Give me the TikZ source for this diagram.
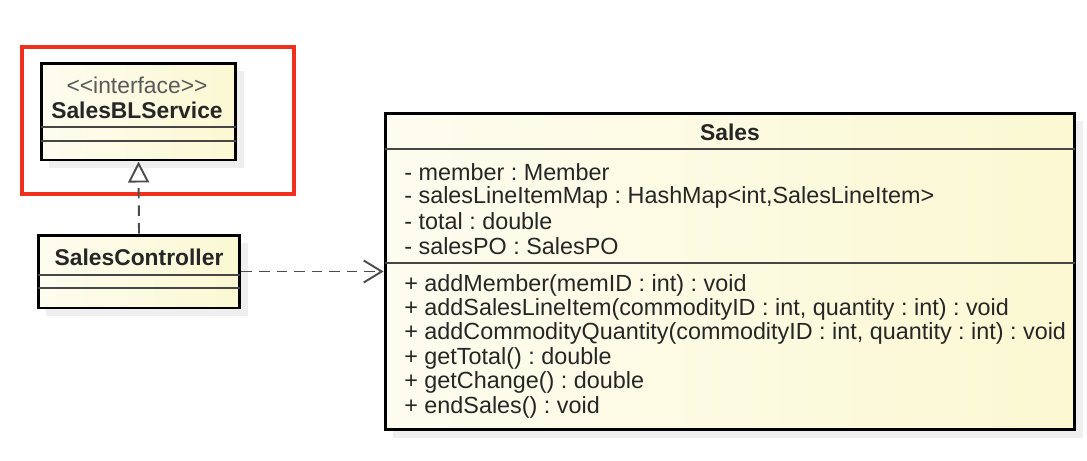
\documentclass[tikz,border=0pt]{standalone}
\usepackage{fontspec}
\setmainfont{Liberation Sans}
\usetikzlibrary{arrows.meta,shadows,positioning}
\frenchspacing

\definecolor{umlfill}{RGB}{251,248,210}
\definecolor{umlline}{RGB}{70,70,70}
\definecolor{highlight}{RGB}{238,48,28}

\tikzset{
	umlbox/.style={draw=black, line width=1.7pt, inner sep=0pt,
		left color=umlfill!35, right color=umlfill,
		drop shadow={shadow xshift=0.16cm, shadow yshift=-0.16cm, fill=black!12}},
	umlsep/.style={draw=umlline, line width=0.9pt},
	classname/.style={font=\fontsize{13}{15}\selectfont\bfseries, text=black!85, inner sep=0pt},
	stereotype/.style={font=\fontsize{13}{15}\selectfont, text=black!65, inner sep=0pt},
	member/.style={font=\fontsize{13.3}{15}\selectfont, text=black!85, anchor=west, inner sep=0pt},
	dep/.style={line width=1.1pt, draw=black!70, dash pattern=on 6pt off 4pt},
}

\begin{document}
\begin{tikzpicture}[x=0.02cm, y=-0.02cm]
	\useasboundingbox (0,0) rectangle (1087,460);

	% Interface
	\draw[highlight, line width=1.8pt] (22,47) rectangle (294,194);
	\node[umlbox, minimum width=3.9cm, minimum height=1.94cm] (service) at (138.5,111.5) {};
	\node[stereotype] (servicestereo) at (137,85) {{<}{<}interface{>}{>}};
	\node[classname] (servicename) at (137,110) {SalesBLService};
	\draw[umlsep] (41,127) -- (236,127);
	\draw[umlsep] (41,141) -- (236,141);

	% Controller
	\node[umlbox, minimum width=4.04cm, minimum height=1.46cm] (controller) at (139,271.5) {};
	\node[classname] (controllername) at (139,257) {SalesController};
	\draw[umlsep] (38,275) -- (240,275);
	\draw[umlsep] (38,288) -- (240,288);

	% Sales
	\node[umlbox, minimum width=13.8cm, minimum height=6.34cm] (sales) at (730,271.5) {};
	\node[classname] (salesname) at (730,132) {Sales};
	\draw[umlsep] (385,149) -- (1075,149);
	\draw[umlsep] (385,263) -- (1075,263);

	\def\attrx{404}
	\node[member] (attr1) at (\attrx,172) {- member : Member};
	\node[member] (attr2) at (\attrx,197) {- salesLineItemMap : HashMap{<}int,SalesLineItem{>}};
	\node[member] (attr3) at (\attrx,221) {- total : double};
	\node[member] (attr4) at (\attrx,246) {- salesPO : SalesPO};

	\node[member] (op1) at (\attrx,285) {+ addMember(memID : int) : void};
	\node[member] (op2) at (\attrx,309) {+ addSalesLineItem(commodityID : int, quantity : int) : void};
	\node[member] (op3) at (\attrx,333) {+ addCommodityQuantity(commodityID : int, quantity : int) : void};
	\node[member] (op4) at (\attrx,358) {+ getTotal() : double};
	\node[member] (op5) at (\attrx,382) {+ getChange() : double};
	\node[member] (op6) at (\attrx,407) {+ endSales() : void};

	% Realization and dependency
	\draw[dep, -{Triangle[open, length=0.42cm, width=0.42cm, line width=1.1pt]}] (controller.north) -- (service.south);
	\draw[dep, -{Straight Barb[length=0.36cm, width=0.44cm, line width=1.1pt]}] (controller.east) -- (controller.east -| sales.west);
\end{tikzpicture}
\end{document}
